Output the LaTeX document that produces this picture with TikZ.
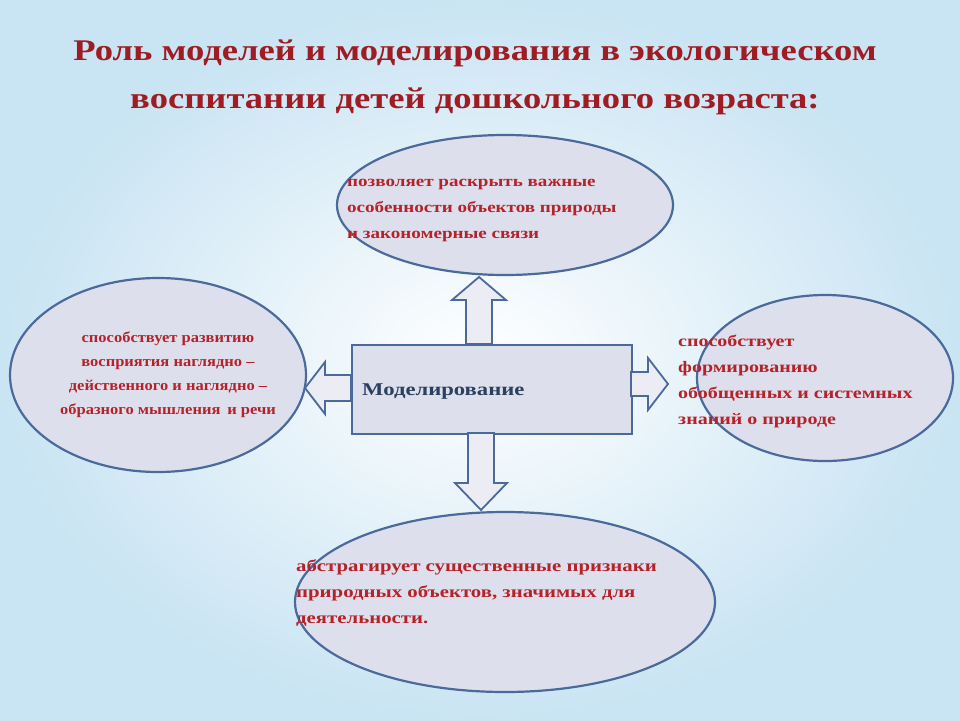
\documentclass[tikz,border=0pt]{standalone}
\usepackage{fontspec}
\setmainfont{Liberation Serif}
\usetikzlibrary{shapes.geometric}
\definecolor{tred}{HTML}{B5222A}
\definecolor{ttl}{HTML}{9E1C22}
\definecolor{bord}{HTML}{4A6A9C}
\definecolor{efill}{HTML}{DDE0EC}
\definecolor{bgb}{HTML}{C9E4F3}
\newcommand{\stre}[3]{\scalebox{#1}[1]{\begin{tabular}{@{}#2@{}}#3\end{tabular}}}
\tikzset{
 oval/.style={ellipse,draw=bord,line width=2.2pt,fill=efill},
 txt/.style={text=tred,inner sep=0pt},
 barrow/.style={draw=bord,line width=1.8pt,fill=efill!60!white,line join=miter}
}
\begin{document}
\begin{tikzpicture}[x=1pt,y=-1pt]
\shade[inner color=white,outer color=bgb] (0,0) rectangle (960,720);
\useasboundingbox (0,0) rectangle (960,720);
\node[text=ttl,font=\bfseries\fontsize{30}{43}\selectfont] (title) at (475,76) {\stre{1.22}{c}{Роль моделей и моделирования в экологическом\\[5pt]воспитании детей дошкольного возраста:}};
% ellipses
\node[oval,minimum width=336,minimum height=140] (top) at (505,205) {};
\node[oval,minimum width=296,minimum height=194] (left) at (158,375) {};
\node[oval,minimum width=256,minimum height=166] (right) at (825,378) {};
\node[oval,minimum width=420,minimum height=180] (bot) at (505,602) {};
% center rect
\node[draw=bord,line width=1.8pt,fill=efill,minimum width=280,minimum height=89,anchor=north west] (mid) at (351,344) {};
\node[text=bord!60!black,font=\bfseries\fontsize{18}{22}\selectfont,anchor=west,inner sep=0pt] (midt) at (362,391) {\stre{1.26}{l}{Моделирование}};
% arrows
\draw[barrow] (466,344) -- (466,300) -- (452,300) -- (479,277) -- (506,300) -- (492,300) -- (492,344) -- cycle;
\draw[barrow] (468,433) -- (468,483) -- (455,483) -- (481,510) -- (507,483) -- (494,483) -- (494,433) -- cycle;
\draw[barrow] (351,375) -- (325,375) -- (325,362) -- (305,388) -- (325,414) -- (325,401) -- (351,401) -- cycle;
\draw[barrow] (631,372) -- (648,372) -- (648,358) -- (668,384) -- (648,410) -- (648,396) -- (631,396) -- cycle;
% texts
\node[txt,anchor=west,font=\bfseries\fontsize{15.5}{26}\selectfont] (tt) at (347,207) {\stre{1.23}{l}{позволяет раскрыть важные\\особенности объектов природы\\и закономерные связи}};
\node[txt,font=\bfseries\fontsize{15}{24}\selectfont] (lt) at (168,374) {\stre{1.1}{c}{способствует развитию\\восприятия наглядно –\\действенного и наглядно –\\образного мышления\, и речи}};
\node[txt,anchor=west,font=\bfseries\fontsize{16}{26}\selectfont] (rt) at (678,380) {\stre{1.25}{l}{способствует\\формированию\\обобщенных и системных\\знаний о природе}};
\node[txt,anchor=west,font=\bfseries\fontsize{16.5}{26}\selectfont] (bt) at (296,592) {\stre{1.26}{l}{абстрагирует существенные признаки\\природных объектов, значимых для\\деятельности.}};
\end{tikzpicture}
\end{document}
